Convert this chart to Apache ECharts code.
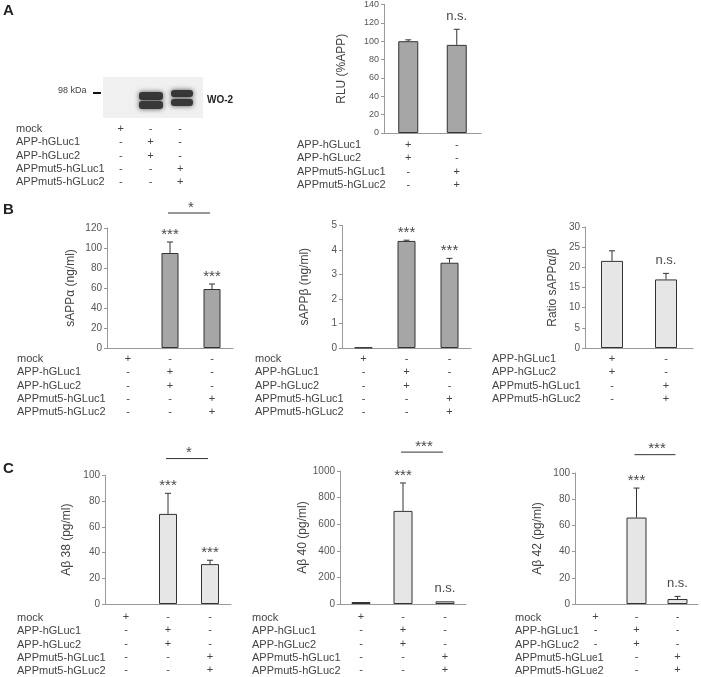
<!DOCTYPE html>
<html>
<head>
<meta charset="utf-8">
<script src="https://cdn.jsdelivr.net/npm/echarts@6/dist/echarts.min.js"></script>
<style>
  html, body { margin: 0; padding: 0; background: #fff; }
  #main { width: 701px; height: 677px; }
</style>
</head>
<body>
<div id="main"></div>
<script>
// ---- data ----
const rows5 = ['mock', 'APP-hGLuc1', 'APP-hGLuc2', 'APPmut5-hGLuc1', 'APPmut5-hGLuc2']
const rows4 = ['APP-hGLuc1', 'APP-hGLuc2', 'APPmut5-hGLuc1', 'APPmut5-hGLuc2']
const groups3 = ['mock', 'APP', 'APPmut5']
const groups2 = ['APP', 'APPmut5']
const signs3 = [['+', '-', '-'], ['-', '+', '-'], ['-', '+', '-'], ['-', '-', '+'], ['-', '-', '+']]
const signs2 = [['+', '-'], ['+', '-'], ['-', '+'], ['-', '+']]

const rluVals = [100, 96]
const rluErrs = [1.5, 17]
const rluMarks = ['', 'n.s.']

const sAlphaVals = [0, 95, 59]
const sAlphaErrs = [0, 11, 5]
const sAlphaMarks = ['', '***', '***']

const sBetaVals = [0.02, 4.37, 3.48]
const sBetaErrs = [0, 0.03, 0.18]
const sBetaMarks = ['', '***', '***']

const ratioVals = [21.6, 17.0]
const ratioErrs = [2.5, 1.5]
const ratioMarks = ['', 'n.s.']

const ab38Vals = [0, 70, 31]
const ab38Errs = [0, 16, 3]
const ab38Marks = ['', '***', '***']

const ab40Vals = [15, 700, 20]
const ab40Errs = [0, 210, 0]
const ab40Marks = ['', '***', 'n.s.']

const ab42Vals = [0, 66, 3.8]
const ab42Errs = [0, 22.5, 2]
const ab42Marks = ['', '***', 'n.s.']

// ---- layout ----
const FONT = 'Liberation Sans'
const LH = 13.4
const DARK = '#a6a6a6'
const LIGHT = '#e6e6e6'

const grids = [], xAxes = [], yAxes = [], series = [], graphics = []

function isStar(t) { return t.indexOf('*') >= 0 }
function markFont(t) { return (isStar(t) ? '15px ' : '13px ') + FONT }

function addTable(i, p, axisY) {
    xAxes.push({
        gridIndex: i, type: 'category', data: p.groups,
        axisLine: { show: p.axisLine !== false, lineStyle: { color: '#999' } },
        axisTick: { show: false },
        axisLabel: {
            interval: 0, margin: p.margin, lineHeight: LH, fontSize: 11,
            fontFamily: FONT, color: '#444',
            formatter: (v, idx) => p.signs.map(r => r[idx]).join('\n')
        }
    })
    p.rows.forEach((r, k) => {
        graphics.push({
            type: 'text', x: p.labelX, y: axisY + p.margin + LH / 2 + k * LH,
            style: { text: r, font: '11px ' + FONT, fill: '#444', verticalAlign: 'middle' }
        })
    })
}

function addPanel(p) {
    const i = grids.length
    grids.push({ left: p.left, top: p.top, width: p.width, height: p.height })
    addTable(i, p, p.top + p.height)
    yAxes.push({
        gridIndex: i, type: 'value', min: 0, max: p.max, interval: p.step,
        name: p.name, nameLocation: 'middle', nameGap: p.nameGap,
        nameTextStyle: { fontSize: 12, color: '#444', fontFamily: FONT },
        axisLine: { show: true, lineStyle: { color: '#999' } },
        axisTick: { show: true, length: 3, lineStyle: { color: '#999' } },
        axisLabel: { fontSize: p.tickFont || 10, color: '#555', fontFamily: FONT, margin: 5,
            formatter: v => String(v) },
        splitLine: { show: false }
    })
    series.push({
        type: 'bar', xAxisIndex: i, yAxisIndex: i, barWidth: p.barWidth, silent: true,
        // zero-height bars leave no outline on the axis
        data: p.vals.map(v => v === 0 ? { value: 0, itemStyle: { borderWidth: 0 } } : v),
        itemStyle: { color: p.color, borderColor: '#333', borderWidth: 1 }
    })
    const marks = p.marks
    series.push({
        type: 'custom', xAxisIndex: i, yAxisIndex: i, silent: true,
        data: p.vals.map((v, k) => [k, v, p.errs[k]]),
        renderItem: function (params, api) {
            const x = api.value(0), v = api.value(1), e = api.value(2)
            const p0 = api.coord([x, v]), p1 = api.coord([x, v + e])
            const children = []
            if (e > 0) {
                children.push({ type: 'line', shape: { x1: p0[0], y1: p0[1], x2: p1[0], y2: p1[1] }, style: { stroke: '#333', lineWidth: 1 } })
                children.push({ type: 'line', shape: { x1: p1[0] - 3, y1: p1[1], x2: p1[0] + 3, y2: p1[1] }, style: { stroke: '#333', lineWidth: 1 } })
            }
            const t = marks[params.dataIndex]
            if (t) {
                children.push({
                    type: 'text',
                    style: { text: t, x: p1[0], y: p1[1] - (isStar(t) ? 0 : 6), align: 'center', verticalAlign: 'bottom', font: markFont(t), fill: '#4a4a4a' }
                })
            }
            return { type: 'group', children }
        }
    })
    if (p.bracket) {
        series.push({
            type: 'custom', xAxisIndex: i, yAxisIndex: i, silent: true,
            data: [p.bracket.slice(0, 3)],
            encode: { x: 0, y: 2 },
            renderItem: function (params, api) {
                const a = api.coord([api.value(0), api.value(2)])
                const b = api.coord([api.value(1), api.value(2)])
                return {
                    type: 'group', children: [
                        { type: 'line', shape: { x1: a[0] - 2, y1: a[1], x2: b[0] - 2, y2: b[1] }, style: { stroke: '#333', lineWidth: 1 } },
                        { type: 'text', style: { text: p.bracket[3], x: (a[0] + b[0]) / 2, y: a[1] + 2, align: 'center', verticalAlign: 'bottom', font: markFont(p.bracket[3]), fill: '#4a4a4a' } }
                    ]
                }
            }
        })
    }
}

// blot lane table (no chart, only the +/- signs under the blot)
grids.push({ left: 106, top: 80, width: 89, height: 40 })
addTable(0, { groups: groups3, signs: signs3, rows: rows5, margin: 2, labelX: 16, axisLine: false }, 120)
yAxes.push({ gridIndex: 0, type: 'value', show: false })
series.push({ type: 'bar', xAxisIndex: 0, yAxisIndex: 0, data: [] })

addPanel({ left: 384, top: 4, width: 97, height: 129, max: 140, step: 20, name: 'RLU (%APP)', nameGap: 36,
    margin: 5, labelX: 297, rows: rows4, signs: signs2, groups: groups2, barWidth: 20, color: DARK, tickFont: 9,
    vals: rluVals, errs: rluErrs, marks: rluMarks })
addPanel({ left: 107, top: 228, width: 126, height: 120, max: 120, step: 20, name: 'sAPPα (ng/ml)', nameGap: 30,
    margin: 4, labelX: 17, rows: rows5, signs: signs3, groups: groups3, barWidth: 17, color: DARK,
    vals: sAlphaVals, errs: sAlphaErrs, marks: sAlphaMarks, bracket: [1, 2, 135, '*'] })
addPanel({ left: 342, top: 225.5, width: 129, height: 122.5, max: 5, step: 1, name: 'sAPPβ (ng/ml)', nameGap: 31,
    margin: 4, labelX: 255, rows: rows5, signs: signs3, groups: groups3, barWidth: 18, color: DARK,
    vals: sBetaVals, errs: sBetaErrs, marks: sBetaMarks })
addPanel({ left: 585, top: 227, width: 108, height: 121, max: 30, step: 5, name: 'Ratio sAPPα/β', nameGap: 26,
    margin: 4, labelX: 492, rows: rows4, signs: signs2, groups: groups2, barWidth: 22, color: LIGHT,
    vals: ratioVals, errs: ratioErrs, marks: ratioMarks })
addPanel({ left: 105, top: 475.3, width: 126, height: 129.7, max: 100, step: 20, name: 'Aβ 38 (pg/ml)', nameGap: 32,
    margin: 6, labelX: 17, rows: rows5, signs: signs3, groups: groups3, barWidth: 18, color: LIGHT,
    vals: ab38Vals, errs: ab38Errs, marks: ab38Marks, bracket: [1, 2, 113, '*'] })
addPanel({ left: 340, top: 471, width: 126, height: 134, max: 1000, step: 200, name: 'Aβ 40 (pg/ml)', nameGap: 28,
    margin: 6, labelX: 252, rows: rows5, signs: signs3, groups: groups3, barWidth: 19, color: LIGHT,
    vals: ab40Vals, errs: ab40Errs, marks: ab40Marks, bracket: [1, 2, 1142, '***'] })
addPanel({ left: 575, top: 473, width: 123, height: 132, max: 100, step: 20, name: 'Aβ 42 (pg/ml)', nameGap: 31,
    margin: 6, labelX: 515, rows: rows5, signs: signs3, groups: groups3, barWidth: 20, color: LIGHT,
    vals: ab42Vals, errs: ab42Errs, marks: ab42Marks, bracket: [1, 2, 114, '***'] })

// panel letters
;[['A', 3], ['B', 202], ['C', 461]].forEach(l => {
    graphics.push({ type: 'text', x: 3, y: l[1], style: { text: l[0], font: 'bold 15px ' + FONT, fill: '#222' } })
})

// western blot picture
graphics.push({ type: 'rect', shape: { x: 103, y: 77, width: 100, height: 41 }, style: { fill: '#f0f0f0' } })
;[[139, 92, 24, 8], [139, 101, 24, 8], [171, 90, 22, 7], [171, 99, 22, 7]].forEach(b => {
    graphics.push({ type: 'rect', shape: { x: b[0], y: b[1], width: b[2], height: b[3], r: 3 },
        style: { fill: '#383838', shadowBlur: 5, shadowColor: 'rgba(40,40,40,0.8)' } })
})
graphics.push({ type: 'text', x: 58, y: 91, style: { text: '98 kDa', font: '9px ' + FONT, fill: '#444', verticalAlign: 'middle' } })
graphics.push({ type: 'line', shape: { x1: 93, y1: 93, x2: 101, y2: 93 }, style: { stroke: '#111', lineWidth: 2 } })
graphics.push({ type: 'text', x: 207, y: 100, style: { text: 'WO-2', font: 'bold 10px ' + FONT, fill: '#222', verticalAlign: 'middle' } })

const chart = echarts.init(document.getElementById('main'))
chart.setOption({
    animation: false,
    grid: grids,
    xAxis: xAxes,
    yAxis: yAxes,
    series: series,
    graphic: graphics
})
window.addEventListener('resize', function () { chart.resize() })
</script>
</body>
</html>
